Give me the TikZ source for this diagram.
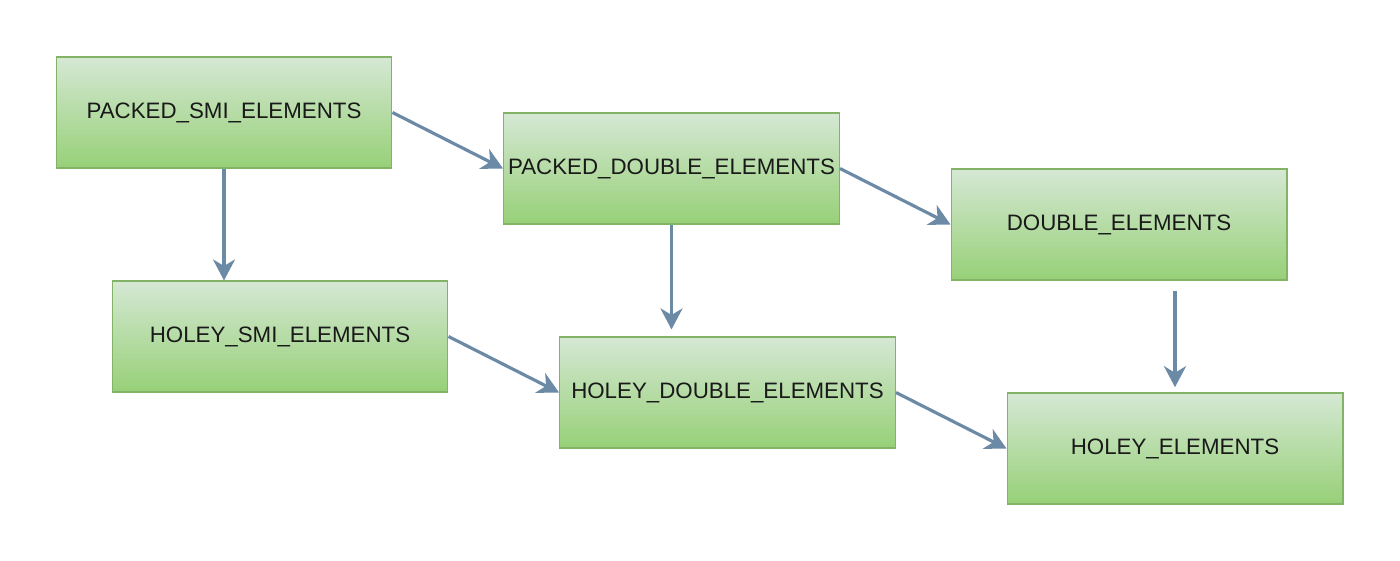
\documentclass[tikz,border=0pt]{standalone}
\usepackage{fontspec}
\setmainfont{Liberation Sans}
\usetikzlibrary{arrows.meta}
\definecolor{boxtop}{HTML}{D5E8D4}
\definecolor{boxbot}{HTML}{97D077}
\definecolor{boxline}{HTML}{82B366}
\definecolor{arrowcol}{HTML}{6B8AA6}
\begin{document}
\begin{tikzpicture}[x=0.02cm,y=-0.02cm,
  kindbox/.style={draw=boxline, line width=0.6pt, top color=boxtop, bottom color=boxbot,
    minimum width=6.72cm, minimum height=2.22cm, inner sep=0pt,
    font=\fontsize{12.7}{14}\selectfont, text=black!90},
  trans/.style={draw=arrowcol, line width=1.8pt,
    -{Stealth[length=4.2mm, width=4.4mm, inset=1.3mm]}}]
\useasboundingbox (0,0) rectangle (1400,561);
% element kinds
\node[kindbox] (psmi) at (224,112.5) {PACKED\_SMI\_ELEMENTS};
\node[kindbox] (pdbl) at (671.5,168.5) {PACKED\_DOUBLE\_ELEMENTS};
\node[kindbox] (dbl) at (1119,224.5) {DOUBLE\_ELEMENTS};
\node[kindbox] (hsmi) at (280,336.5) {HOLEY\_SMI\_ELEMENTS};
\node[kindbox] (hdbl) at (727.5,392.5) {HOLEY\_DOUBLE\_ELEMENTS};
\node[kindbox] (hel) at (1175,448.5) {HOLEY\_ELEMENTS};
% transitions
\draw[trans] (psmi.east) -- (pdbl.west);
\draw[trans] (pdbl.east) -- (dbl.west);
\draw[trans] (hsmi.east) -- (hdbl.west);
\draw[trans] (hdbl.east) -- (hel.west);
\draw[trans] (psmi.south) -- (psmi.south |- hsmi.north);
\draw[trans, shorten >=4] (pdbl.south) -- (pdbl.south |- hdbl.north);
\draw[trans, shorten <=6, shorten >=3] (hel.north |- dbl.south) -- (hel.north);
\end{tikzpicture}
\end{document}
